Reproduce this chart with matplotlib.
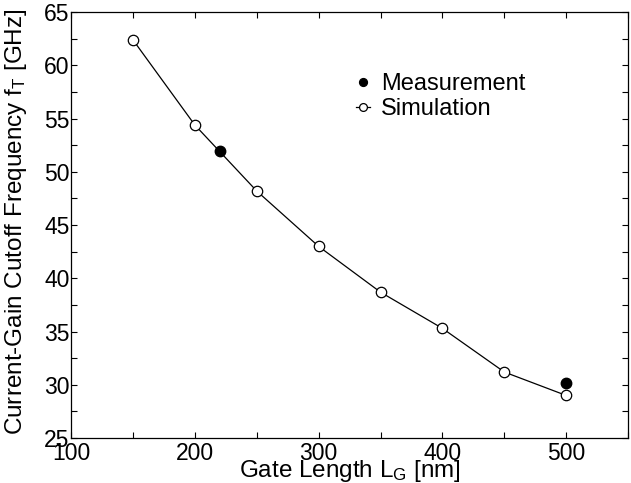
import matplotlib
matplotlib.use("Agg")
import matplotlib.pyplot as plt
from matplotlib.ticker import MultipleLocator

# simulation (open circles, joined by line)
sim_lg = [150, 200, 250, 300, 350, 400, 450, 500]
sim_ft = [62.4, 54.4, 48.2, 43.0, 38.7, 35.3, 31.2, 29.0]

# measurement (filled circles)
meas_lg = [220, 500]
meas_ft = [52.0, 30.2]

plt.rcParams["font.family"] = ["Liberation Sans", "DejaVu Sans"]
plt.rcParams["mathtext.fontset"] = "custom"
plt.rcParams["mathtext.rm"] = "Liberation Sans"
plt.rcParams["mathtext.it"] = "Liberation Sans"

fig = plt.figure(figsize=(6.31, 4.83), dpi=100)
ax = fig.add_axes([0.1125, 0.093, 0.883, 0.882])

ax.plot(sim_lg, sim_ft, color="black", lw=0.9, marker="o", ms=7.5,
        mfc="white", mec="black", mew=0.9, label="Simulation", zorder=2)
ax.plot(meas_lg, meas_ft, ls="none", marker="o", ms=7.5,
        mfc="black", mec="black", label="Measurement", zorder=3)

ax.set_xlim(100, 550)
ax.set_ylim(25, 65)
ax.xaxis.set_major_locator(MultipleLocator(100))
ax.xaxis.set_minor_locator(MultipleLocator(50))
ax.yaxis.set_major_locator(MultipleLocator(5))
ax.yaxis.set_minor_locator(MultipleLocator(2.5))
ax.tick_params(which="both", direction="in", top=True, right=True,
               length=4, width=0.8)
ax.tick_params(axis="x", labelsize=16.5, pad=3)
ax.tick_params(axis="y", labelsize=16.5, pad=1)

ax.set_xlabel(r"Gate Length L$_\mathrm{G}$ [nm]", fontsize=17.5)
ax.xaxis.set_label_coords(0.5, -0.047)
ax.set_ylabel(r"Current-Gain Cutoff Frequency f$_\mathrm{T}$ [GHz]",
              fontsize=17.5)
ax.yaxis.set_label_coords(-0.076, 0.507)

handles, labels = ax.get_legend_handles_labels()
ax.legend(handles[::-1], labels[::-1], frameon=False, loc="upper left",
          bbox_to_anchor=(0.512, 0.856), fontsize=17, handlelength=0.6,
          handletextpad=0.45, labelspacing=0.1, markerscale=0.75,
          borderaxespad=0, borderpad=0)

for s in ax.spines.values():
    s.set_linewidth(0.9)

fig.savefig("out.png", dpi=100)
